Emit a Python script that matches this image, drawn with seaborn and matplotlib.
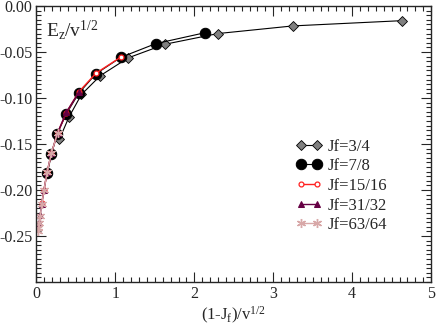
import matplotlib
matplotlib.use("Agg")
from matplotlib import pyplot as plt
from matplotlib.ticker import MultipleLocator
import seaborn as sns
import pandas as pd

# data, one pair of lists per Jf
x_34 = [4.63, 3.25, 2.30, 1.63, 1.16, 0.81, 0.57, 0.41, 0.29]
y_34 = [-0.016, -0.0217, -0.030, -0.0416, -0.0565, -0.0757, -0.0962, -0.121, -0.1449]

x_78 = [2.14, 1.51, 1.07, 0.75, 0.535, 0.38, 0.26, 0.19, 0.137]
y_78 = [-0.029, -0.041, -0.0558, -0.074, -0.095, -0.117, -0.1395, -0.161, -0.182]

x_1516 = [1.07, 0.755, 0.535, 0.378, 0.267, 0.189, 0.134, 0.095, 0.067]
y_1516 = [-0.0555, -0.073, -0.0935, -0.116, -0.138, -0.160, -0.181, -0.200, -0.214]

x_3132 = [0.535, 0.378, 0.267, 0.189, 0.134, 0.095, 0.067, 0.047, 0.033]
y_3132 = [-0.094, -0.1155, -0.138, -0.160, -0.181, -0.200, -0.215, -0.227, -0.236]

x_6364 = [0.267, 0.189, 0.134, 0.095, 0.067, 0.047, 0.033, 0.024, 0.017]
y_6364 = [-0.138, -0.160, -0.181, -0.200, -0.215, -0.228, -0.236, -0.241, -0.2445]

labels = ["Jf=3/4", "Jf=7/8", "Jf=15/16", "Jf=31/32", "Jf=63/64"]

sns.set_style("ticks")
plt.rcParams["font.family"] = ["Liberation Serif", "DejaVu Serif"]
plt.rcParams["mathtext.fontset"] = "custom"
plt.rcParams["mathtext.rm"] = "Liberation Serif"
plt.rcParams["mathtext.it"] = "Liberation Serif"
plt.rcParams["axes.unicode_minus"] = False

fig = plt.figure(figsize=(4.36, 3.3), dpi=100)
ax = fig.add_axes([0.0837, 0.1455, 0.905, 0.8365])

series = [
    (x_34, y_34, dict(color="black", marker="D", markersize=5.5, markerfacecolor="#808080",
                      markeredgecolor="black", markeredgewidth=0.6, linewidth=0.8)),
    (x_78, y_78, dict(color="black", marker="o", markersize=7.5, markerfacecolor="black",
                      markeredgecolor="black", linewidth=0.8)),
    (x_1516, y_1516, dict(color="#ff2020", marker="o", markersize=3.5, markerfacecolor="white",
                          markeredgecolor="#ff2020", markeredgewidth=0.9, linewidth=1.0)),
    (x_3132, y_3132, dict(color="#660044", marker="^", markersize=4, markerfacecolor="#660044",
                          markeredgecolor="#660044", linewidth=1.0)),
    (x_6364, y_6364, dict(color="#d8a8a8", marker=(6, 2, 0), markersize=6.5,
                          markeredgecolor="#d8a8a8", markeredgewidth=1.0, linewidth=1.0)),
]

for (xs, ys, style), lab in zip(series, labels):
    df = pd.DataFrame({"x": xs, "y": ys})
    sns.lineplot(data=df, x="x", y="y", ax=ax, label=lab, estimator=None, sort=True, **style)

ax.set_xlim(0, 5)
ax.set_ylim(-0.30, 0.0)
ax.set_xticks([0, 1, 2, 3, 4, 5])
ax.set_yticks([0.0, -0.05, -0.10, -0.15, -0.20, -0.25])
ax.set_yticklabels(["0.00", "-0.05", "-0.10", "-0.15", "-0.20", "-0.25"])
ax.xaxis.set_minor_locator(MultipleLocator(0.1))
ax.yaxis.set_minor_locator(MultipleLocator(0.005))
ax.tick_params(which="both", direction="in", top=True, right=True, labelsize=11.5, width=0.8)
ax.tick_params(which="major", length=7, pad=3)
ax.tick_params(which="minor", length=3.5)
for sp in ax.spines.values():
    sp.set_linewidth(1.0)

ax.set_xlabel(r"(1-J$_\mathrm{f}$)/v$^{\mathrm{1/2}}$", fontsize=12, labelpad=2)
ax.set_ylabel("")
ax.text(0.025, 0.955, r"E$_\mathrm{z}$/v$^{\mathrm{1/2}}$", transform=ax.transAxes,
        fontsize=14, va="top", ha="left")

ax.legend(loc="center left", bbox_to_anchor=(0.64, 0.348), frameon=False, numpoints=2,
          handlelength=1.6, handletextpad=0.3, labelspacing=0.22, fontsize=12,
          borderaxespad=0.0)

fig.savefig("out.png", dpi=100)
